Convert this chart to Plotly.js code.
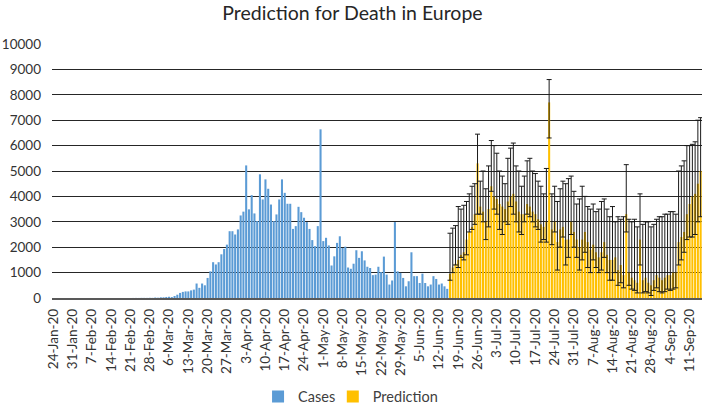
<!DOCTYPE html>
<html>
<head>
<meta charset="utf-8">
<script src="https://cdn.plot.ly/plotly-3.0.1.min.js"></script>
<style>html,body{margin:0;padding:0;background:#fff;}#chart{width:705px;height:404px;}</style>
</head>
<body>
<div id="chart"></div>
<script>
// ---- data ----
const startDate = '2020-01-24';
const casesName = 'Cases';
const predName = 'Prediction';
// daily deaths (Jan 24 .. Jun 15)
const cases = [
  0,0,0,0,0,0,0,0,0,0,
  0,0,0,0,0,0,0,0,0,0,
  0,1,0,0,0,0,0,0,1,2,
  3,2,5,5,4,8,6,18,12,27,
  28,41,49,37,80,130,200,240,260,260,
  300,330,570,400,570,500,790,1050,1410,1320,
  1410,1720,1930,2100,2630,2630,2500,2700,3250,3400,
  5220,3490,4050,3330,3030,4870,3880,4670,4300,3680,
  3030,3290,3880,4670,4140,3710,3710,2720,2830,3590,
  3380,3160,2990,2720,2280,2040,2830,6640,2240,2370,
  2070,1280,1640,2170,2430,1970,2020,1200,1150,1350,
  1880,1580,1840,1480,1230,1180,900,920,1230,1020,
  1630,920,530,690,2990,1050,990,790,460,660,
  1800,860,860,590,960,590,460,530,860,750,
  530,570,460,360
];
// predicted deaths (Jun 16 .. Sep 15): bar value, lower bound, upper bound
const predValue = [
  950,1200,1350,1500,1700,1800,2300,2600,2800,3300,
  5300,3600,3400,3000,3500,4400,4000,3900,3700,3600,
  3500,3800,4000,4100,3800,3400,3300,3300,3700,3600,
  3400,3300,3100,2900,2800,3000,7700,2700,3000,2200,
  2700,2800,2300,2300,3000,2600,2300,2000,2300,2600,
  2200,1900,2100,1800,1600,1800,2200,1700,1500,1500,
  1600,1100,1300,900,3300,1000,800,700,600,2300,
  700,800,600,500,700,900,800,700,800,900,
  900,1000,1000,2200,2400,2600,3300,3700,4000,4100,
  4500,5000
];
const predLower = [
  700,1000,1300,1200,1600,1500,1700,2600,2700,2900,
  3300,3300,3000,2300,2800,4200,3500,3300,2700,2500,
  3000,2900,3600,3300,3000,2600,2500,3000,3300,3200,
  3000,2800,2700,2200,2300,2200,6300,2100,2600,1100,
  2000,2400,1300,1600,2500,2000,1600,1100,1500,1800,
  1200,1000,1500,1200,1000,1100,1600,1000,700,700,
  1000,500,600,400,2600,500,350,300,200,1300,
  200,250,200,100,300,400,250,200,250,350,
  300,350,400,1300,1500,1800,2300,2400,2400,2500,
  3000,3200
];
const predUpper = [
  2550,2750,2850,3600,3500,3650,3800,4100,4400,4500,
  6450,4600,5000,4300,5200,6200,6000,5700,5000,4800,
  4500,5500,5900,6100,5200,5000,4400,4800,5400,5500,
  5000,4900,4600,4400,4100,5100,8600,4100,4400,3800,
  4300,4600,4500,4700,4800,4200,3700,3900,4400,4000,
  3600,3500,3700,3400,3500,3800,3900,3500,3200,3600,
  3000,3200,3100,3200,5250,3100,3000,3100,2800,4100,
  2900,3000,3000,2800,2900,3100,3200,3200,3300,3300,
  3400,3400,3300,5000,5200,5400,6000,6000,6050,6150,
  7000,7100
];

// ---- build dates ----
function dayString(offset){
  const d = new Date(startDate + 'T00:00:00Z');
  d.setUTCDate(d.getUTCDate() + offset);
  return d.toISOString().slice(0,10);
}
const casesDates = cases.map((_, i) => dayString(i));
const predDates = predValue.map((_, i) => dayString(cases.length + i));
const errPlus = predValue.map((v, i) => predUpper[i] - v);
const errMinus = predValue.map((v, i) => v - predLower[i]);

const font = 'Lato, "Open Sans", "Liberation Sans", sans-serif';

const traces = [
  {
    type: 'bar', name: casesName, x: casesDates, y: cases, legend: 'legend',
    marker: {color: '#5B9BD5', line: {width: 0}}
  },
  {
    type: 'bar', name: predName, x: predDates, y: predValue, legend: 'legend2',
    marker: {color: '#FFC000', line: {width: 0}},
    error_y: {type: 'data', symmetric: false, array: errPlus, arrayminus: errMinus,
              color: '#1a1a1a', thickness: 1, width: 2.5}
  }
];

const legendBase = {orientation: 'h', xanchor: 'left', y: -0.388, yanchor: 'middle',
  font: {family: font, size: 14.5, color: '#404040'}, itemwidth: 30, bgcolor: 'rgba(0,0,0,0)'};

const layout = {
  width: 705, height: 404,
  margin: {l: 52, r: 3, t: 44, b: 106, autoexpand: false},
  paper_bgcolor: '#fff', plot_bgcolor: '#fff',
  title: {text: 'Prediction for Death in Europe', x: 0.5, xanchor: 'center', y: 0.967, yanchor: 'middle',
          font: {family: font, size: 19.5, color: '#262626'}},
  barmode: 'overlay', bargap: 0.25,
  showlegend: true,
  legend: Object.assign({}, legendBase, {x: 0.317}),
  legend2: Object.assign({}, legendBase, {x: 0.432}),
  xaxis: {
    type: 'date', automargin: false,
    range: ['2020-01-23 12:00', '2020-09-15 12:00'],
    tick0: startDate, dtick: 7 * 86400000,
    tickformat: '%-d-%b-%y', tickangle: -90,
    showgrid: false, showline: true, linecolor: '#595959', linewidth: 1.5,
    ticks: '', zeroline: false, ticklabelstandoff: 4,
    tickfont: {family: font, size: 13.5, color: '#333333'}
  },
  yaxis: {
    range: [0, 10000], dtick: 1000, tickformat: 'd', automargin: false,
    showgrid: true, gridcolor: '#262626', gridwidth: 1,
    zeroline: false, showline: false, ticks: '', ticklabelstandoff: 10,
    tickfont: {family: font, size: 13.5, color: '#333333'}
  }
};

Plotly.newPlot('chart', traces, layout, {displayModeBar: false, staticPlot: true});
</script>
</body>
</html>
